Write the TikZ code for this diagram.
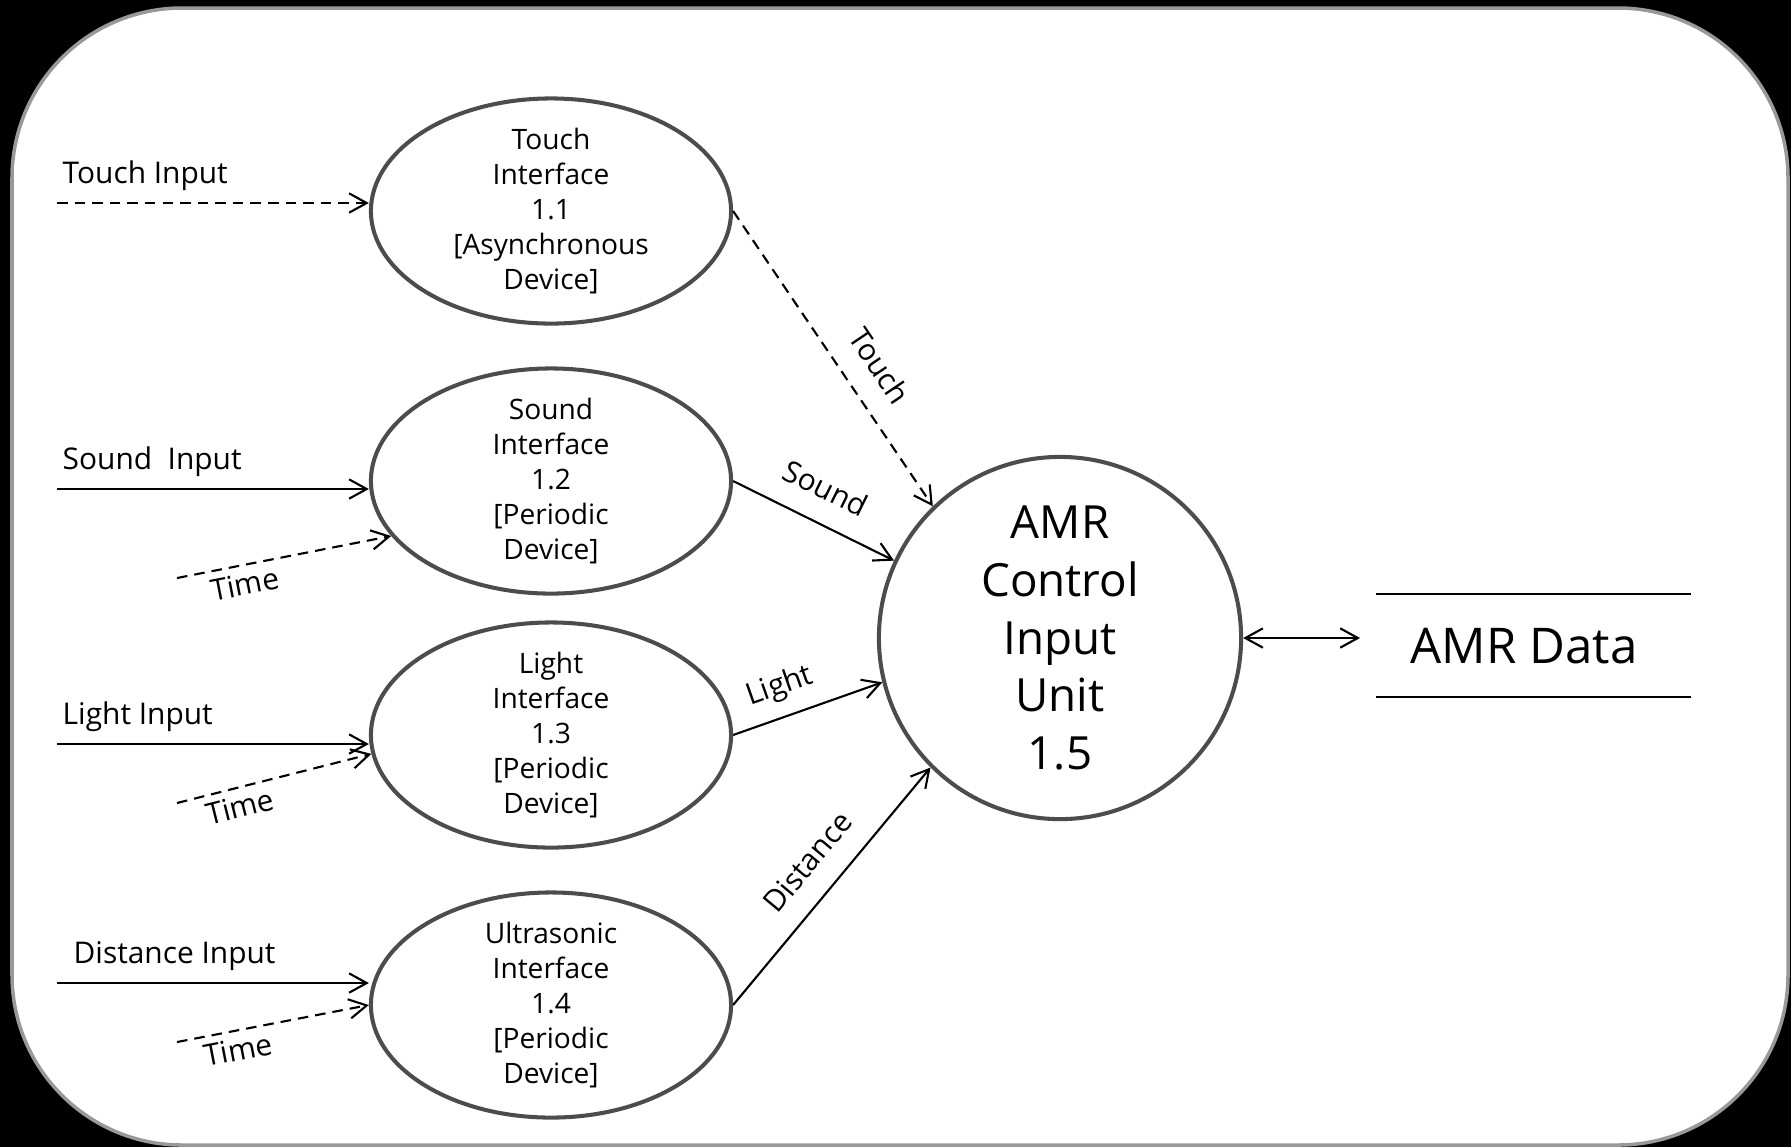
\documentclass[tikz,border=0pt]{standalone}
\usepackage{fontspec}
\setmainfont{Open Sans}
\usepackage{tikz}
\usetikzlibrary{arrows.meta}
\usetikzlibrary{shapes}

\tikzset{
  bubble/.style={ellipse,draw=black!70,line width=1.15pt,fill=white,
    minimum width=3.6cm,minimum height=2.25cm,inner xsep=0pt,inner ysep=-3pt,
    align=center,font=\fontsize{8}{9.96}\selectfont},
  unit/.style={circle,draw=black!70,line width=1.15pt,fill=white,
    minimum size=3.62cm,inner sep=0pt,align=center,
    font=\fontsize{13}{16.4}\selectfont},
  flow/.style={-{Straight Barb[length=5pt,width=5.5pt]},line width=0.6pt},
  async/.style={flow,dash pattern=on 3pt off 2pt},
  flowlbl/.style={font=\fontsize{8.5}{10}\selectfont,sloped},
  inlbl/.style={font=\fontsize{8.5}{10}\selectfont,anchor=base west,inner sep=0pt}
}

\begin{document}
\begin{tikzpicture}[x=0.01cm,y=-0.01cm]
  %%% the frame
  \fill[black] (0,0) rectangle (1791,1147);
  \draw[black!40,line width=1pt,fill=white,rounded corners=1.7cm] (12,8) rectangle (1788,1145);
  \useasboundingbox (0,0) rectangle (1791,1147);

  %%% the interfaces
  \foreach \n/\word/\y/\idx/\kind in {touch/Touch/211/1.1/Asynchronous,
      sound/Sound/481/1.2/Periodic,light/Light/735/1.3/Periodic,
      ultra/Ultrasonic/1005/1.4/Periodic}
  {
    \node[bubble] (\n) at (551,\y) {\word\\Interface\\\idx\\{}[\kind\\Device]};
  }

  %%% the control unit
  \node[unit] (amr) at (1060,638) {AMR\\Control\\Input\\Unit\\1.5};

  %%% the data store
  \draw[line width=0.5pt] (1376,594) -- (1691,594);
  \draw[line width=0.5pt] (1376,697) -- (1691,697);
  \node[font=\fontsize{14}{16}\selectfont] (store) at (1524,646) {AMR Data};
  \coordinate (storein) at (1360,638);
  \draw[{Straight Barb[length=5pt,width=5.5pt]}-{Straight Barb[length=5pt,width=5.5pt]},line width=0.6pt]
    (amr.east) -- (storein);

  %%% inputs
  % offset of the labels: baseline 20 above the line
  \coordinate (tin) at (57,203);
  \coordinate (sin) at (57,489);
  \coordinate (lin) at (57,744);
  \coordinate (din) at (57,983);
  \node[inlbl] (tinlbl) at (62,183) {Touch Input};
  \node[inlbl] (sinlbl) at (62,469) {Sound\ \ Input};
  \node[inlbl] (linlbl) at (62,724) {Light Input};
  \node[inlbl] (dinlbl) at (73,963) {Distance Input};
  \draw[async] (tin) -- (tin -| touch.west);
  \draw[flow] (sin) -- (sin -| sound.west);
  \draw[flow] (lin) -- (lin -| light.west);
  \draw[flow] (din) -- (din -| ultra.west);

  %% the clock
  \foreach \n/\y/\a in {sound/578/199,light/803/186,ultra/1042/180}
  {
    \coordinate (\n-t) at (177,\y);
    \draw[async] (\n-t) -- (\n.\a) node[flowlbl,below,inner sep=2pt,pos=0.3] (\n-tl) {Time};
  }

  %%% outputs
  \draw[async] (touch.east) -- (amr.134) node[flowlbl,above=3pt,pos=0.59] (touchlbl) {Touch};
  \draw[flow] (sound.east) -- (amr.155) node[flowlbl,above=3pt,pos=0.48] (soundlbl) {Sound};
  \draw[flow] (light.east) -- (amr.194) node[flowlbl,above=0.6pt,pos=0.38] (lightlbl) {Light};
  \draw[flow] (ultra.east) -- (amr.225) node[flowlbl,above=3pt,pos=0.51] (distlbl) {Distance};
\end{tikzpicture}
\end{document}
